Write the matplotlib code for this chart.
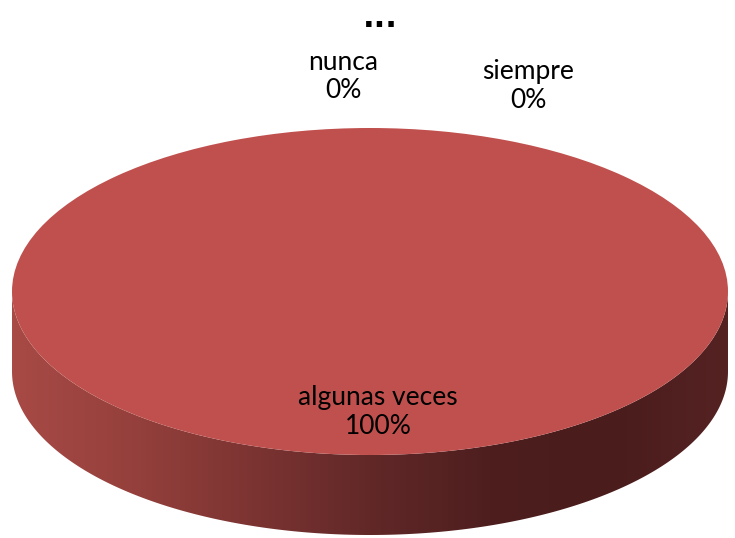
import numpy as np
import matplotlib
matplotlib.use("Agg")
import matplotlib.pyplot as plt
from matplotlib.path import Path
from matplotlib.patches import PathPatch
from matplotlib.colors import LinearSegmentedColormap

categories = ["nunca", "algunas veces", "siempre"]
values = [0, 100, 0]
pct_labels = ["0%", "100%", "0%"]
title_text = "..."

W, H = 735, 538
fig = plt.figure(figsize=(W / 100, H / 100), dpi=100)

# ellipse geometry in pixels
cx, cy = 370, 291.5
a, b = 358, 163.5
depth = 80

# background axes in pixel coordinates
bg = fig.add_axes([0, 0, 1, 1])
bg.set_xlim(0, W)
bg.set_ylim(H, 0)
bg.axis("off")

# side wall of the cylinder
t = np.linspace(0, np.pi, 200)
xs_top = cx + a * np.cos(t)
ys_top = cy + b * np.sin(t)
xs_bot = cx + a * np.cos(t[::-1])
ys_bot = cy + depth + b * np.sin(t[::-1])
verts = np.column_stack([np.concatenate([xs_top, xs_bot]),
                         np.concatenate([ys_top, ys_bot])])
verts = np.vstack([verts, verts[:1]])
path = Path(verts, closed=True)
side = PathPatch(path, facecolor="none", edgecolor="none")
bg.add_patch(side)
cmap = LinearSegmentedColormap.from_list(
    "side", ["#A84A46", "#95403C", "#7C3432", "#622828", "#4E1E1E", "#4A1C1C", "#552222"])
grad = np.linspace(0, 1, 512).reshape(1, -1)
im = bg.imshow(grad, cmap=cmap, aspect="auto",
               extent=[cx - a, cx + a, cy + b + depth + 2, cy - 5], zorder=1)
im.set_clip_path(side)

# top face: pie squashed into the ellipse
ax = fig.add_axes([(cx - a) / W, (H - (cy + b)) / H, 2 * a / W, 2 * b / H])
ax.pie(values, colors=["#4F81BD", "#C0504D", "#9BBB59"], startangle=90,
       counterclock=False, radius=1, wedgeprops=dict(linewidth=0))
ax.set_aspect("auto")
ax.set_xlim(-1, 1)
ax.set_ylim(-1, 1)
ax.axis("off")

# text layer
tx = fig.add_axes([0, 0, 1, 1])
tx.set_xlim(0, W)
tx.set_ylim(H, 0)
tx.axis("off")
fam = ["Lato", "DejaVu Sans"]
label_pos = [(343, 76), (378, 412), (528, 86)]
for cat, pct, (x, y) in zip(categories, pct_labels, label_pos):
    tx.text(x, y, f"{cat}\n{pct}", ha="center", va="center", fontsize=19,
            family=fam, color="black", linespacing=1.15)
tx.text(380, 27, title_text, ha="center", va="baseline", fontsize=22,
        fontweight="bold", family=["DejaVu Sans"], color="black")

fig.savefig("out.png", dpi=100)
